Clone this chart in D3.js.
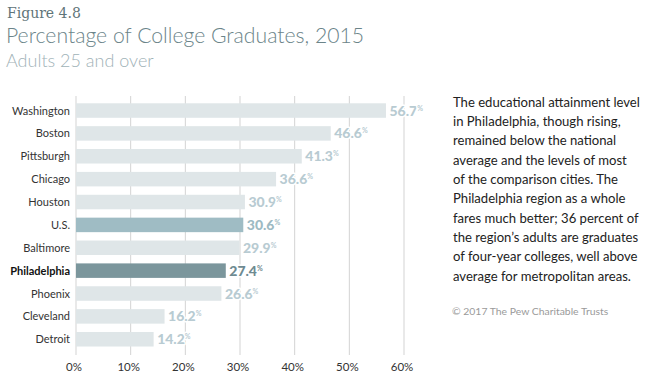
<!DOCTYPE html>
<html>
<head>
<meta charset="utf-8">
<script src="https://cdn.jsdelivr.net/npm/d3@7"></script>
<style>
  body { margin: 0; background: #fff; }
  svg { display: block; }
</style>
</head>
<body>
<div id="chart"></div>
<script>
// values
const cities = ['Washington', 'Boston', 'Pittsburgh', 'Chicago', 'Houston', 'U.S.',
  'Baltimore', 'Philadelphia', 'Phoenix', 'Cleveland', 'Detroit'];
const shares = [56.7, 46.6, 41.3, 36.6, 30.9, 30.6, 29.9, 27.4, 26.6, 16.2, 14.2];
const xTicks = [0, 10, 20, 30, 40, 50, 60];
const noteLines = [
  'The educational attainment level',
  'in Philadelphia, though rising,',
  'remained below the national',
  'average and the levels of most',
  'of the comparison cities. The',
  'Philadelphia region as a whole',
  'fares much better; 36 percent of',
  'the region\u2019s adults are graduates',
  'of four-year colleges, well above',
  'average for metropolitan areas.'
];

const width = 650, height = 381;
const rows = cities.map((c, i) => ({ city: c, value: shares[i] }));

const svg = d3.select('#chart').append('svg')
  .attr('width', width)
  .attr('height', height);

// headings
svg.append('text')
  .attr('x', 7).attr('y', 17.5)
  .style('font-family', 'DejaVu Serif')
  .style('font-size', '14px')
  .style('fill', '#5f7579')
  .text('Figure 4.8');

svg.append('text')
  .attr('x', 6).attr('y', 43)
  .style('font-family', 'Lato')
  .style('font-weight', 300)
  .style('font-size', '21.2px')
  .style('fill', '#6b8489')
  .text('Percentage of College Graduates, 2015');

svg.append('text')
  .attr('x', 6).attr('y', 66.5)
  .style('font-family', 'Lato')
  .style('font-weight', 300)
  .style('font-size', '18px')
  .style('fill', '#9fb2b7')
  .text('Adults 25 and over');

// scales
const x = d3.scaleLinear().domain([0, 60]).range([76, 404]);
const y = d3.scaleBand()
  .domain(cities)
  .range([99.1, 350.7])
  .paddingInner(0.366)
  .paddingOuter(0.183);

const g = svg.append('g');

// vertical grid
g.append('g')
  .selectAll('line')
  .data(xTicks)
  .join('line')
  .attr('x1', d => x(d)).attr('x2', d => x(d))
  .attr('y1', 96).attr('y2', 355)
  .attr('stroke', '#d3d3d3')
  .attr('stroke-width', 1);

// x labels
const xAxis = g.append('g')
  .attr('transform', 'translate(-2.5,371)')
  .call(d3.axisBottom(x).tickValues(xTicks).tickSize(0).tickPadding(0)
    .tickFormat(d => d + '%'));
xAxis.select('.domain').remove();
xAxis.selectAll('text')
  .attr('y', 0).attr('dy', 0)
  .style('font-family', 'Lato')
  .style('font-size', '11.5px')
  .style('fill', '#333');

function barColor(city) {
  if (city === 'Philadelphia') return '#7b969c';
  if (city === 'U.S.') return '#9fbcc4';
  return '#dfe6e8';
}
function labelColor(city) {
  if (city === 'Philadelphia') return '#6e8a91';
  if (city === 'U.S.') return '#9dbac3';
  return '#b8cbd2';
}

// bars
g.append('g')
  .selectAll('rect')
  .data(rows)
  .join('rect')
  .attr('x', x(0))
  .attr('y', d => y(d.city))
  .attr('width', d => x(d.value) - x(0))
  .attr('height', y.bandwidth())
  .attr('fill', d => barColor(d.city));

// category labels
g.append('g')
  .selectAll('text')
  .data(rows)
  .join('text')
  .attr('x', 70)
  .attr('y', d => y(d.city) + y.bandwidth() / 2 + 4)
  .attr('text-anchor', 'end')
  .style('font-family', 'Lato')
  .style('font-size', '11px')
  .style('font-weight', d => d.city === 'Philadelphia' ? 700 : 400)
  .style('fill', d => d.city === 'Philadelphia' ? '#111' : '#333')
  .text(d => d.city);

// value labels with small superscript %, white halo cuts the grid
const vl = g.append('g')
  .selectAll('text')
  .data(rows)
  .join('text')
  .attr('x', d => x(d.value) + 3.5)
  .attr('y', d => y(d.city) + y.bandwidth() / 2 + 5)
  .style('font-family', 'Lato')
  .style('font-weight', 900)
  .style('font-size', '14px')
  .style('fill', d => labelColor(d.city))
  .style('stroke', '#fff')
  .style('stroke-width', '3px')
  .style('paint-order', 'stroke')
  .style('stroke-linejoin', 'round');
vl.append('tspan').text(d => d.value.toFixed(1));
vl.append('tspan')
  .attr('dy', -5)
  .style('font-size', '7px')
  .style('font-weight', 700)
  .text('%');

// note on the right
svg.append('g')
  .selectAll('text')
  .data(noteLines)
  .join('text')
  .attr('x', 453)
  .attr('y', (d, i) => 106.7 + i * 19.33)
  .style('font-family', 'Lato')
  .style('font-size', '13.1px')
  .style('fill', '#222')
  .text(d => d);

svg.append('text')
  .attr('x', 452)
  .attr('y', 315)
  .style('font-family', 'Lato')
  .style('font-size', '10.4px')
  .style('fill', '#9a9a9a')
  .text('\u00a9 2017 The Pew Charitable Trusts');
</script>
</body>
</html>
